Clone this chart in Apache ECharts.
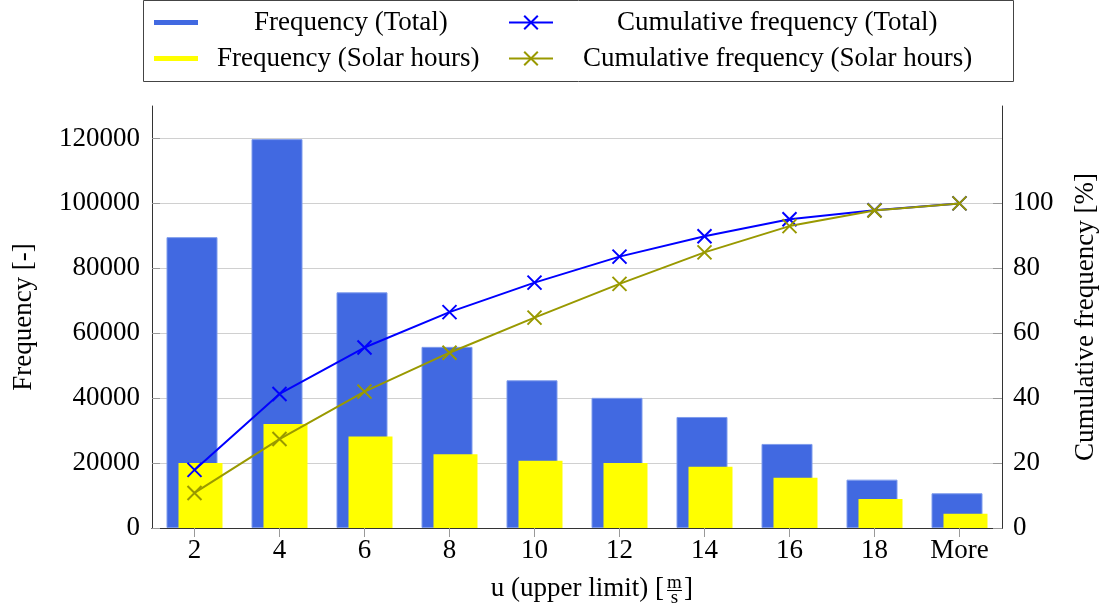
<!DOCTYPE html>
<html>
<head>
<meta charset="utf-8">
<script src="https://cdn.jsdelivr.net/npm/echarts@6/dist/echarts.min.js"></script>
<style>
  html, body { margin: 0; padding: 0; background: #fff; }
  #chart { width: 1107px; height: 612px; }
</style>
</head>
<body>
<div id="chart"></div>
<script>
(function () {
  var categories = ['2', '4', '6', '8', '10', '12', '14', '16', '18', 'More'];
  var freqTotal = [89600, 119800, 72600, 55800, 45500, 40100, 34200, 25900, 14900, 10700];
  var freqSolar = [20000, 32000, 28200, 22700, 20700, 20000, 18900, 15500, 8900, 4400];
  var cumTotal = [17.9, 41.3, 55.6, 66.5, 75.6, 83.6, 89.9, 95.1, 97.9, 100];
  var cumSolar = [10.8, 27.4, 42.0, 54.0, 64.8, 75.2, 84.9, 93.0, 97.8, 100];
  var leftTicks = [0, 20000, 40000, 60000, 80000, 100000, 120000];
  var rightTicks = [0, 20, 40, 60, 80, 100];

  var FONT = "'Liberation Serif', 'DejaVu Serif', serif";
  var CROSS = 'path://M0,0L10,10M10,0L0,10';
  var chart = echarts.init(document.getElementById('chart'));

  function legendBox(name, left, top, gap, isLine) {
    var box = {
      data: [name],
      left: left,
      top: top,
      padding: 0,
      itemWidth: 44,
      itemHeight: isLine ? 17 : 5,
      selectedMode: false,
      formatter: function (n) { return '{g|}' + n; },
      textStyle: {
        fontFamily: FONT,
        fontSize: 27,
        color: '#000',
        rich: { g: { width: gap } },
      },
    };
    if (!isLine) {
      box.icon = 'rect';
      box.itemStyle = { borderWidth: 0 };
    }
    return box;
  }

  function plain(v) { return String(v); }

  var option = {
    animation: false,
    backgroundColor: '#fff',
    textStyle: { fontFamily: FONT },
    legend: [
      legendBox('Frequency (Total)', 154, 9, 51, false),
      legendBox('Cumulative frequency (Total)', 508, 9, 59, true),
      legendBox('Frequency (Solar hours)', 154, 45, 14, false),
      legendBox('Cumulative frequency (Solar hours)', 508, 45, 25, true),
    ],
    graphic: [
      {
        type: 'rect',
        shape: { x: 143.5, y: 0.5, width: 870, height: 81 },
        style: { fill: 'none', stroke: '#444', lineWidth: 1 },
      },
      {
        type: 'text',
        x: 664,
        y: 589,
        style: {
          text: 'u (upper limit) [',
          font: '27px ' + FONT,
          fill: '#000',
          align: 'right',
          verticalAlign: 'middle',
        },
      },
      {
        type: 'text',
        x: 674.5,
        y: 583,
        style: { text: 'm', font: '19px ' + FONT, fill: '#000', align: 'center', verticalAlign: 'middle' },
      },
      {
        type: 'line',
        shape: { x1: 667, y1: 590.5, x2: 682, y2: 590.5 },
        style: { stroke: '#000', lineWidth: 1 },
      },
      {
        type: 'text',
        x: 674.5,
        y: 598,
        style: { text: 's', font: '19px ' + FONT, fill: '#000', align: 'center', verticalAlign: 'middle' },
      },
      {
        type: 'text',
        x: 684,
        y: 589,
        style: { text: ']', font: '27px ' + FONT, fill: '#000', align: 'left', verticalAlign: 'middle' },
      },
    ],
    grid: { left: 152, right: 105, top: 106, bottom: 84, containLabel: false },
    xAxis: [
      {
        type: 'category',
        data: categories,
        boundaryGap: true,
        axisLine: { show: true, lineStyle: { color: '#333', width: 1 } },
        axisTick: { show: true, inside: true, alignWithLabel: true, length: 9, lineStyle: { color: '#999' } },
        axisLabel: { color: '#000', fontFamily: FONT, fontSize: 27, margin: 9 },
        splitLine: { show: false },
      },
      {
        type: 'category',
        data: categories,
        position: 'top',
        boundaryGap: true,
        axisLine: { show: true, lineStyle: { color: '#333', width: 1 } },
        axisTick: { show: true, inside: true, alignWithLabel: true, length: 9, lineStyle: { color: '#999' } },
        axisLabel: { show: false },
        splitLine: { show: false },
      },
    ],
    yAxis: [
      {
        type: 'value',
        min: 0,
        max: 130000,
        interval: 20000,
        name: 'Frequency [-]',
        nameLocation: 'middle',
        nameGap: 115,
        nameRotate: 90,
        nameTextStyle: { color: '#000', fontFamily: FONT, fontSize: 27 },
        axisLine: { show: true, lineStyle: { color: '#333', width: 1 } },
        axisTick: { show: true, inside: true, length: 8, lineStyle: { color: '#999' }, customValues: leftTicks },
        axisLabel: { color: '#000', fontFamily: FONT, fontSize: 27, margin: 12, customValues: leftTicks, formatter: plain },
        splitLine: { show: true, lineStyle: { color: '#d0d0d0', width: 1 } },
      },
      {
        type: 'value',
        min: 0,
        max: 130,
        interval: 20,
        position: 'right',
        name: 'Cumulative frequency [%]',
        nameLocation: 'middle',
        nameGap: 70,
        nameRotate: 90,
        nameTextStyle: { color: '#000', fontFamily: FONT, fontSize: 27 },
        axisLine: { show: true, lineStyle: { color: '#333', width: 1 } },
        axisTick: { show: true, inside: true, length: 9, lineStyle: { color: '#999' }, customValues: rightTicks },
        axisLabel: { color: '#000', fontFamily: FONT, fontSize: 27, margin: 11, customValues: rightTicks, formatter: plain },
        splitLine: { show: false },
      },
    ],
    series: [
      {
        name: 'Frequency (Total)',
        type: 'bar',
        data: freqTotal,
        barWidth: 51,
        barGap: '-76.5%',
        itemStyle: { color: '#4169e1', borderColor: '#7f9cec', borderWidth: 1 },
        emphasis: { disabled: true },
      },
      {
        name: 'Frequency (Solar hours)',
        type: 'bar',
        data: freqSolar,
        barWidth: 44,
        barGap: '-76.5%',
        itemStyle: { color: '#ffff00' },
        emphasis: { disabled: true },
      },
      {
        name: 'Cumulative frequency (Total)',
        type: 'line',
        yAxisIndex: 1,
        data: cumTotal,
        color: '#0000ff',
        symbol: CROSS,
        symbolSize: 14,
        lineStyle: { color: '#0000ff', width: 2 },
        itemStyle: { color: '#0000ff', borderColor: '#0000ff', borderWidth: 2 },
        emphasis: { disabled: true },
        z: 3,
      },
      {
        name: 'Cumulative frequency (Solar hours)',
        type: 'line',
        yAxisIndex: 1,
        data: cumSolar,
        color: '#999900',
        symbol: CROSS,
        symbolSize: 14,
        lineStyle: { color: '#999900', width: 2 },
        itemStyle: { color: '#999900', borderColor: '#999900', borderWidth: 2 },
        emphasis: { disabled: true },
        z: 4,
      },
    ],
  };

  chart.setOption(option);
})();
</script>
</body>
</html>
